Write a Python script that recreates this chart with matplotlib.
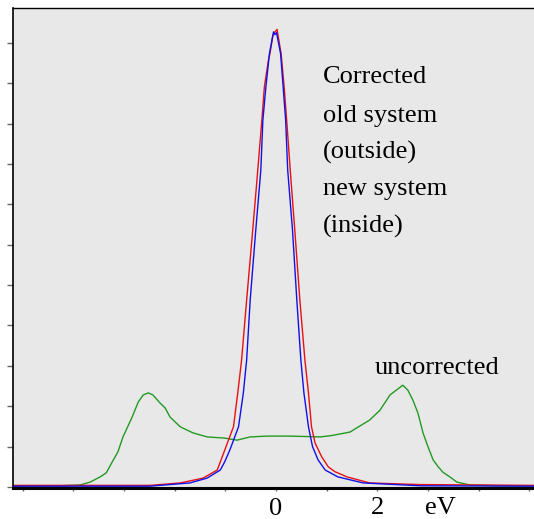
import matplotlib
matplotlib.use("Agg")
import matplotlib.pyplot as plt
import matplotlib.transforms as mtransforms

# Energy (eV) and intensity (tick units)
red_x = [-5.19, -2.49, -1.89, -1.44, -1.16, -1.01, -0.84, -0.755, -0.68, -0.58, -0.46, -0.36, -0.28, -0.23, -0.15,
         -0.12, -0.065, -0.026, 0.02, 0.10, 0.16, 0.21, 0.28, 0.37, 0.47, 0.57, 0.64, 0.70, 0.77, 0.90, 1.03,
         1.16, 1.40, 1.85, 2.84, 5.09]
red_y = [0.04, 0.04, 0.10, 0.22, 0.42, 0.92, 1.49, 2.33, 3.14, 4.63, 6.36, 7.85, 9.08, 9.91, 10.57,
         10.73, 11.16, 11.26, 11.33, 10.73, 9.91, 9.08, 7.85, 6.36, 4.63, 3.14, 2.33, 1.49, 1.09, 0.75, 0.50,
         0.38, 0.25, 0.10, 0.06, 0.04]

blue_x = [-5.19, -2.49, -1.70, -1.36, -1.10, -1.01, -0.91, -0.74, -0.645, -0.58, -0.51, -0.40, -0.30, -0.26, -0.20,
          -0.13, -0.05, -0.02, 0.01, 0.09, 0.14, 0.19, 0.23, 0.325, 0.41, 0.49, 0.55, 0.64, 0.72, 0.83, 0.97,
          1.22, 1.72, 2.84, 5.09]
blue_y = [0.02, 0.02, 0.10, 0.22, 0.42, 0.63, 0.92, 1.49, 2.33, 3.14, 4.63, 6.36, 7.85, 9.08, 9.91,
          10.73, 11.27, 11.20, 11.25, 10.73, 9.91, 9.08, 7.85, 6.36, 4.63, 3.14, 2.33, 1.49, 1.00, 0.67, 0.42,
          0.25, 0.10, 0.03, 0.02]

green_x = [-5.19, -4.26, -3.87, -3.67, -3.47, -3.35, -3.21, -3.12, -3.02, -2.84, -2.72, -2.62, -2.52, -2.43,
           -2.29, -2.19, -2.09, -1.89, -1.64, -1.36, -1.01, -0.77, -0.51, -0.18, 0.28, 0.87, 1.08, 1.46, 1.85,
           2.05, 2.25, 2.50, 2.60, 2.70, 2.80, 2.90, 3.00, 3.10, 3.20, 3.29, 3.43, 3.57, 3.83, 4.42, 5.09]
green_y = [0.02, 0.03, 0.05, 0.12, 0.25, 0.35, 0.67, 0.87, 1.24, 1.73, 2.10, 2.28, 2.33, 2.28,
           2.08, 1.96, 1.73, 1.49, 1.34, 1.24, 1.21, 1.16, 1.24, 1.26, 1.26, 1.24, 1.27, 1.36, 1.66,
           1.90, 2.28, 2.52, 2.40, 2.15, 1.83, 1.34, 0.99, 0.67, 0.50, 0.37, 0.25, 0.12, 0.05, 0.03, 0.03]

xticks = [-5, -4, -3, -2, -1, 0, 1, 2, 3, 4, 5]
xlabel_pos = [0, 2]
xlabel_txt = ["0", "2"]
yticks = list(range(0, 12))

label_lines = ["Corrected", "old system", "(outside)", "new system", "(inside)"]
label_y = [10.0, 9.03, 8.14, 7.23, 6.29]

SERIF = "Liberation Serif"
FS = 19

fig = plt.figure(figsize=(5.34, 5.19), dpi=100)
ax = fig.add_axes([13/534, 31/519, 1 - 13/534, 480/519])
ax.set_facecolor("#e8e8e8")

ax.plot(green_x, green_y, color="#229922", lw=1.0)
ax.plot(red_x, red_y, color="#e81010", lw=1.0)
ax.plot(blue_x, blue_y, color="#1010e8", lw=1.0)

ax.set_xlim(-5.19, 5.09)
ax.set_ylim(-0.025, 11.86)

ax.set_xticks(xticks)
ax.set_xticklabels([])
ax.set_yticks(yticks)
ax.set_yticklabels([])
ax.tick_params(axis="y", direction="out", length=4.5, width=1, color="#666666")
ax.tick_params(axis="x", direction="out", length=2.5, width=1, color="#666666")

ax.spines["right"].set_visible(False)
ax.spines["top"].set_linewidth(1.0)
ax.spines["left"].set_linewidth(1.2)
ax.spines["bottom"].set_linewidth(2.2)

trans = mtransforms.blended_transform_factory(ax.transData, fig.transFigure)
label_base = [4/519, 5/519]
for xp, t, yb in zip(xlabel_pos, xlabel_txt, label_base):
    ax.text(xp, yb, t, transform=trans, fontfamily=SERIF, fontsize=FS,
            ha="center", va="baseline", clip_on=False)
ax.text(2.93, 5/519, "eV", transform=trans, fontfamily=SERIF, fontsize=FS,
        ha="left", va="baseline", clip_on=False)

for t, yy in zip(label_lines, label_y):
    ax.text(0.92, yy, t, fontfamily=SERIF, fontsize=FS, ha="left", va="baseline")
ax.text(1.94, 2.80, "uncorrected", fontfamily=SERIF, fontsize=FS, ha="left", va="baseline")

fig.savefig("out.png", dpi=100)
